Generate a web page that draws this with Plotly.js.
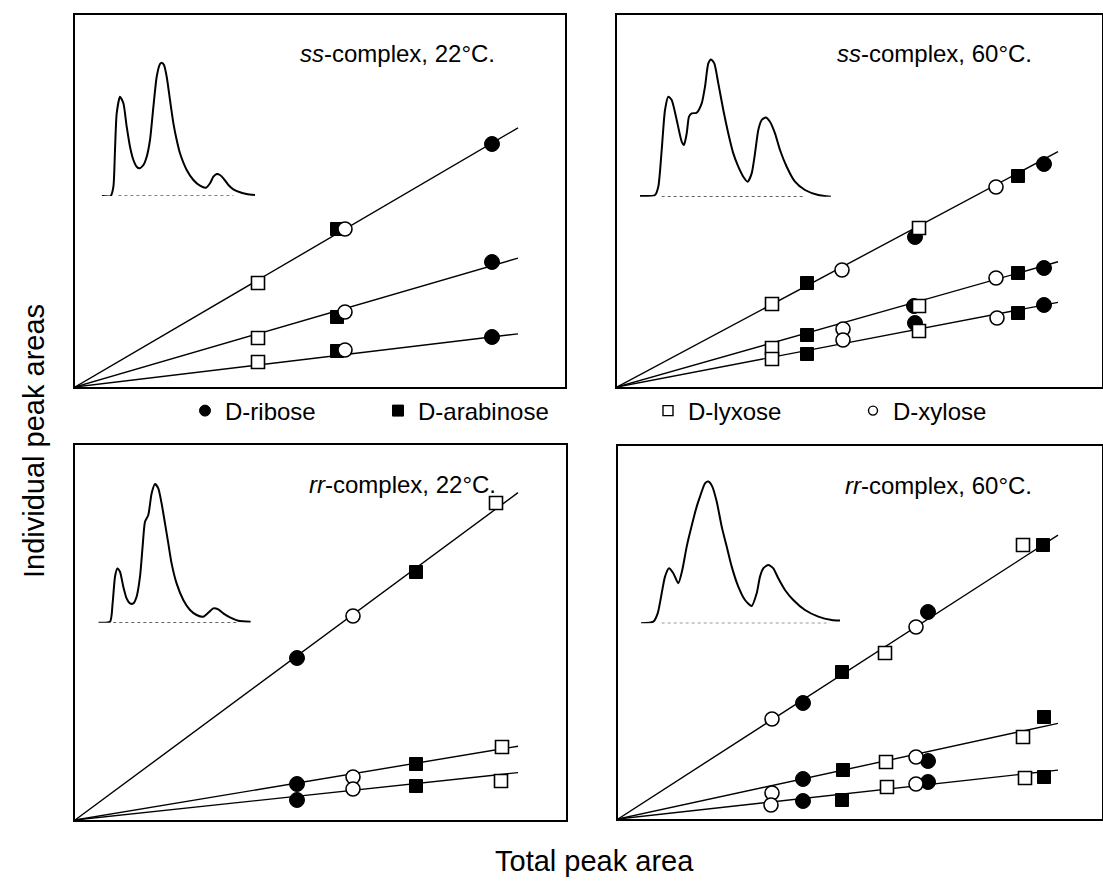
<!DOCTYPE html>
<html>
<head>
<meta charset="utf-8">
<script src="https://cdn.plot.ly/plotly-3.0.1.min.js"></script>
<style>html,body{margin:0;padding:0;background:#fff}#chart{width:1103px;height:881px}</style>
</head>
<body>
<div id="chart"></div>
<script>
// ---------------- DATA (arbitrary area units) ----------------
const sugars = ["D-ribose", "D-arabinose", "D-lyxose", "D-xylose"];
const panelTitles = ["<i>ss</i>-complex, 22°C.", "<i>ss</i>-complex, 60°C.", "<i>rr</i>-complex, 22°C.", "<i>rr</i>-complex, 60°C."];

// Panel 1: ss-complex 22 C
const p1_ribose_x = [417, 417, 417];
const p1_ribose_y = [243, 125, 50];
const p1_arabinose_x = [262, 262, 262];
const p1_arabinose_y = [158, 70, 36];
const p1_lyxose_x = [183, 183, 183];
const p1_lyxose_y = [104, 49, 25];
const p1_xylose_x = [270, 270, 270];
const p1_xylose_y = [158, 75, 37];
const p1_slopes = [0.585, 0.291, 0.120];
const p1_xmax = 443;

// Panel 2: ss-complex 60 C
const p2_ribose_x = [298, 297, 298, 427, 427, 427];
const p2_ribose_y = [150, 81, 64, 223, 119, 82];
const p2_arabinose_x = [190, 190, 190, 401, 401, 401];
const p2_arabinose_y = [104, 52, 33, 211, 114, 74];
const p2_lyxose_x = [155, 302, 155, 302, 155, 302];
const p2_lyxose_y = [83, 159, 39, 81, 28, 56];
const p2_xylose_x = [225, 226, 226, 379, 379, 380];
const p2_xylose_y = [117, 58, 47, 200, 109, 69];
const p2_slopes = [0.5335, 0.284, 0.192];
const p2_xmax = 441;

// Panel 3: rr-complex 22 C
const p3_ribose_x = [222, 222, 222];
const p3_ribose_y = [162, 36, 20];
const p3_arabinose_x = [341, 341, 341];
const p3_arabinose_y = [248, 56, 34];
const p3_lyxose_x = [421, 427, 426];
const p3_lyxose_y = [317, 73, 39];
const p3_xylose_x = [278, 278, 278];
const p3_xylose_y = [204, 43, 31];
const p3_slopes = [0.739, 0.1666, 0.107];
const p3_xmax = 443;

// Panel 4: rr-complex 60 C
const p4_ribose_x = [185, 310, 185, 310, 185, 310];
const p4_ribose_y = [116, 207, 40, 58, 18, 37];
const p4_arabinose_x = [224, 425, 225, 426, 224, 426];
const p4_arabinose_y = [147, 274, 49, 102, 19, 42];
const p4_lyxose_x = [267, 405, 268, 405, 269, 407];
const p4_lyxose_y = [166, 274, 57, 82, 32, 41];
const p4_xylose_x = [154, 298, 154, 298, 153, 298];
const p4_xylose_y = [100, 192, 26, 62, 14, 35];
const p4_slopes = [0.645, 0.2173, 0.111];
const p4_xmax = 440;

// Inset chromatograms (time, signal)
const c1_t = [0,9,11.7,13.3,15,18.3,21.7,25,28.3,31.7,35,37.7,41.7,45,48.3,51.7,55,58.3,60,62.3,65,68.3,71.7,75,78.3,85,91.7,98.3,104.3,108.3,111.7,115,118.3,121.7,126.7,131.7,138.3,145,153.3];
const c1_s = [0,0,9.3,46,82.7,99.3,92.7,69.3,49.3,36,29.3,27.7,31,39.3,56,89.3,119.3,132,133.3,131,119.3,96,72.7,56,42.7,26,16,10.3,8.3,12.7,19.3,22,21,17.7,11,6.7,3.7,2,1];
const c1_base = [16.7, 131.7];

const c2_t = [0,15,18.3,21.7,25,28.3,31.7,36.7,41.7,44,46.7,49,51.7,56.7,61.7,65,68.3,71,74.3,78.3,83.3,88.3,93.3,98.3,103.3,107.7,111.7,115,118.3,121.7,125.7,130,135,140,146.7,155,165,178.3,191];
const c2_s = [0.7,1.7,10,46.7,86.7,100,96.7,76.7,55,51.7,63.3,80,83.3,84,93.3,110,133.3,137.3,133.3,113.3,86.7,63.3,43.3,30,20,15,23.3,43.3,66.7,76.7,79.3,75,63.3,46.7,30,15,6.7,1.7,0];
const c2_base = [21.7, 165];

const c3_t = [0,11.7,14.3,16.7,19,21.7,25,28.3,31.7,35,38.3,41.7,44.3,46.7,50,53.3,56.7,60,63.3,66.7,70,73.3,78.3,85,91.7,98.3,105,110,115,120,125,131.7,140,152.3];
const c3_s = [0,1,19.3,46,54.3,51,36,24.3,19.3,19.3,26,46,76,101,107.7,129.3,138.7,134.3,119.3,99.3,79.3,59.3,39.3,22.7,12.7,7.7,6,10,14.3,13.3,9.3,5.3,2,1];
const c3_base = [15, 138.3];

const c4_t = [0,12.3,16.7,20.7,24,28,32.3,37.3,41.3,45.7,51.3,55.7,59,64,67.3,71.3,75.7,80.7,85.7,90.7,97.3,104,110.7,115.7,119,122.3,127.3,132.3,137.3,144,152.3,164,177.3,190.7,199];
const c4_s = [0,1.7,10,30,46.7,55,50,40,53.3,76.7,100,116.7,126.7,140,141.7,136.7,121.7,96.7,76.7,56.7,36.7,23.3,17.3,30,46.7,55,58.3,55,45,33.3,23.3,13.3,6.7,3.3,2.7];
const c4_base = [20.7, 189];

// ---------------- LAYOUT HELPERS (pixel boxes) ----------------
const W = 1103, H = 881;
const px = v => v / W;
const py = v => 1 - v / H;
// panel boxes: [left, right, top, bottom] in pixels
const boxes = [[75, 565, 15, 387], [617, 1102, 15, 387], [75, 566, 445, 820], [618, 1102, 446, 819]];
// inset origin (left, baseline) in pixels
const insetOrigin = [[101.7, 196], [640, 196.7], [98.3, 622.7], [641, 623.3]];
const insetW = 200, insetH = 145;

const panels = [
  {rx: p1_ribose_x, ry: p1_ribose_y, ax: p1_arabinose_x, ay: p1_arabinose_y, lx: p1_lyxose_x, ly: p1_lyxose_y, xx: p1_xylose_x, xy: p1_xylose_y, slopes: p1_slopes, xmax: p1_xmax, ct: c1_t, cs: c1_s, cb: c1_base},
  {rx: p2_ribose_x, ry: p2_ribose_y, ax: p2_arabinose_x, ay: p2_arabinose_y, lx: p2_lyxose_x, ly: p2_lyxose_y, xx: p2_xylose_x, xy: p2_xylose_y, slopes: p2_slopes, xmax: p2_xmax, ct: c2_t, cs: c2_s, cb: c2_base},
  {rx: p3_ribose_x, ry: p3_ribose_y, ax: p3_arabinose_x, ay: p3_arabinose_y, lx: p3_lyxose_x, ly: p3_lyxose_y, xx: p3_xylose_x, xy: p3_xylose_y, slopes: p3_slopes, xmax: p3_xmax, ct: c3_t, cs: c3_s, cb: c3_base},
  {rx: p4_ribose_x, ry: p4_ribose_y, ax: p4_arabinose_x, ay: p4_arabinose_y, lx: p4_lyxose_x, ly: p4_lyxose_y, xx: p4_xylose_x, xy: p4_xylose_y, slopes: p4_slopes, xmax: p4_xmax, ct: c4_t, cs: c4_s, cb: c4_base}
];

const markerStyles = [
  {symbol: 'circle', size: 15, color: '#000', line: {color: '#000', width: 1}},
  {symbol: 'square', size: 13, color: '#000', line: {color: '#000', width: 1}},
  {symbol: 'square', size: 13, color: '#fff', line: {color: '#000', width: 1.6}},
  {symbol: 'circle', size: 14, color: '#fff', line: {color: '#000', width: 1.6}}
];
const legendMarkerStyles = [
  {symbol: 'circle', size: 11, color: '#000', line: {color: '#000', width: 1}},
  {symbol: 'square', size: 11, color: '#000', line: {color: '#000', width: 1}},
  {symbol: 'square', size: 10, color: '#fff', line: {color: '#000', width: 1.4}},
  {symbol: 'circle', size: 9, color: '#fff', line: {color: '#000', width: 1.4}}
];

const traces = [];
const layout = {
  width: W, height: H,
  margin: {l: 0, r: 0, t: 0, b: 0},
  paper_bgcolor: '#fff', plot_bgcolor: 'rgba(0,0,0,0)',
  font: {family: 'Liberation Sans, Arial, Helvetica, sans-serif', color: '#000'},
  showlegend: true,
  annotations: [],
  shapes: []
};

panels.forEach((p, i) => {
  const n = i + 1;
  const b = boxes[i];
  const xa = 'x' + (n === 1 ? '' : n), ya = 'y' + (n === 1 ? '' : n);
  const axisBase = {showgrid: false, zeroline: false, showticklabels: false, ticks: '', showline: true, linecolor: '#000', linewidth: 2, mirror: true, fixedrange: true};
  layout['xaxis' + (n === 1 ? '' : n)] = Object.assign({}, axisBase, {domain: [px(b[0]), px(b[1])], range: [0, b[1] - b[0]], anchor: ya});
  layout['yaxis' + (n === 1 ? '' : n)] = Object.assign({}, axisBase, {domain: [py(b[3]), py(b[2])], range: [0, b[3] - b[2]], anchor: xa});
  // inset axes
  const ni = n + 4;
  const o = insetOrigin[i];
  layout['xaxis' + ni] = {domain: [px(o[0]), px(o[0] + insetW)], range: [0, insetW], visible: false, anchor: 'y' + ni, fixedrange: true};
  layout['yaxis' + ni] = {domain: [py(o[1]), py(o[1] - insetH)], range: [0, insetH], visible: false, anchor: 'x' + ni, fixedrange: true};

  // regression lines
  p.slopes.forEach(s => {
    traces.push({x: [0, p.xmax], y: [0, s * p.xmax], mode: 'lines', line: {color: '#000', width: 1.4}, xaxis: xa, yaxis: ya, showlegend: false, hoverinfo: 'skip'});
  });
  // inset chromatogram
  traces.push({x: p.cb, y: [0, 0], mode: 'lines', line: {color: '#000', width: 1, dash: 'dot'}, xaxis: 'x' + ni, yaxis: 'y' + ni, showlegend: false, hoverinfo: 'skip'});
  traces.push({x: p.ct, y: p.cs, mode: 'lines', line: {color: '#000', width: 2, shape: 'spline', smoothing: 0.6}, xaxis: 'x' + ni, yaxis: 'y' + ni, showlegend: false, hoverinfo: 'skip'});
  // points
  const pts = [[p.rx, p.ry], [p.ax, p.ay], [p.lx, p.ly], [p.xx, p.xy]];
  pts.forEach((d, k) => {
    traces.push({x: d[0], y: d[1], mode: 'markers', name: sugars[k], marker: markerStyles[k], xaxis: xa, yaxis: ya, showlegend: false});
  });
  // panel label
  layout.annotations.push({text: panelTitles[i], xref: 'paper', yref: 'paper', x: px(b[1] - 68), y: py(b[2] + 39), xanchor: 'right', yanchor: 'middle', showarrow: false, font: {size: 24}});
});

// legend-only traces, one per legend box
const legendX = [205, 398, 668, 873];
sugars.forEach((s, k) => {
  const lname = k === 0 ? 'legend' : 'legend' + (k + 1);
  traces.push({x: [null], y: [null], mode: 'markers', name: s, marker: legendMarkerStyles[k], legend: lname, showlegend: true, xaxis: 'x', yaxis: 'y'});
  layout[lname] = {x: px(legendX[k] - 20), y: py(411), xanchor: 'left', yanchor: 'middle', orientation: 'h', bgcolor: 'rgba(0,0,0,0)', borderwidth: 0, font: {size: 24, color: '#000'}, itemclick: false, itemdoubleclick: false};
});

// axis titles
layout.annotations.push({text: 'Total peak area', xref: 'paper', yref: 'paper', x: px(594), y: py(861), xanchor: 'center', yanchor: 'middle', showarrow: false, font: {size: 29}});
layout.annotations.push({text: 'Individual peak areas', xref: 'paper', yref: 'paper', x: px(34), y: py(441), xanchor: 'center', yanchor: 'middle', textangle: -90, showarrow: false, font: {size: 29}});

Plotly.newPlot('chart', traces, layout, {displayModeBar: false, staticPlot: true});
</script>
</body>
</html>
